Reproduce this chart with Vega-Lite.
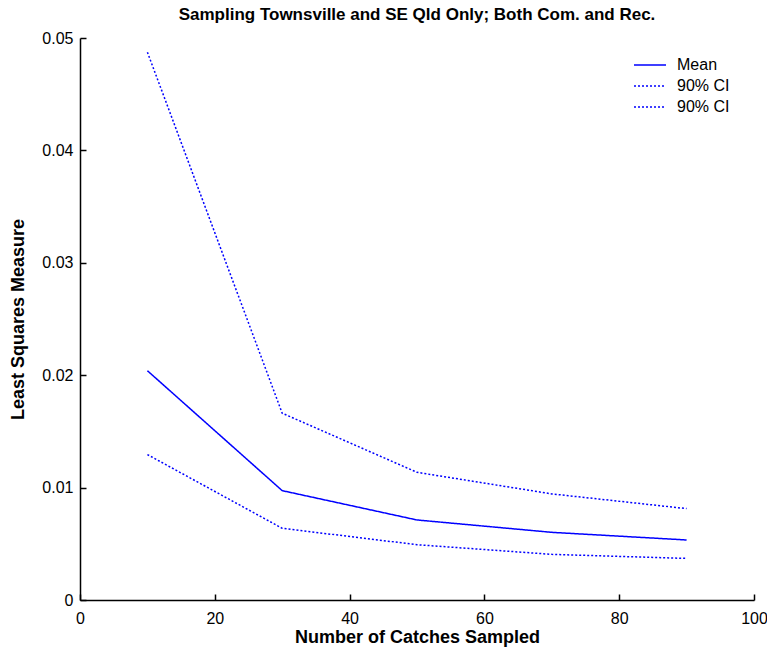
{
  "$schema": "https://vega.github.io/schema/vega-lite/v6.json",
  "autosize": {"type": "none"},
  "padding": {"left": 80, "top": 38, "right": 13, "bottom": 52},
  "width": 674,
  "height": 562,
  "background": "white",
  "title": {
    "text": "Sampling Townsville and SE Qld Only; Both Com. and Rec.",
    "font": "Liberation Sans",
    "fontSize": 17,
    "fontWeight": "bold",
    "color": "black",
    "anchor": "middle",
    "frame": "group",
    "offset": 6
  },
  "config": {
    "view": {"stroke": null},
    "font": "Liberation Sans"
  },
  "data": {
    "values": [
      {"n": 10, "series": "Mean", "value": 0.0204},
      {"n": 30, "series": "Mean", "value": 0.00973},
      {"n": 50, "series": "Mean", "value": 0.00712},
      {"n": 70, "series": "Mean", "value": 0.00602},
      {"n": 90, "series": "Mean", "value": 0.00534},
      {"n": 10, "series": "Upper", "value": 0.04874},
      {"n": 30, "series": "Upper", "value": 0.01662},
      {"n": 50, "series": "Upper", "value": 0.01136},
      {"n": 70, "series": "Upper", "value": 0.00944},
      {"n": 90, "series": "Upper", "value": 0.00813},
      {"n": 10, "series": "Lower", "value": 0.01294},
      {"n": 30, "series": "Lower", "value": 0.00638},
      {"n": 50, "series": "Lower", "value": 0.00492},
      {"n": 70, "series": "Lower", "value": 0.00406},
      {"n": 90, "series": "Lower", "value": 0.0037}
    ]
  },
  "resolve": {"axis": {"x": "independent", "y": "independent"}},
  "layer": [
    {
      "mark": {"type": "line", "color": "#0000ff", "strokeWidth": 1.5},
      "encoding": {
        "x": {
          "field": "n",
          "type": "quantitative",
          "scale": {"domain": [0, 100], "nice": false, "zero": false},
          "axis": {
            "orient": "bottom",
            "title": "Number of Catches Sampled",
            "titleFont": "Liberation Sans",
            "titleFontSize": 18,
            "titleFontWeight": "bold",
            "titleColor": "black",
            "titlePadding": 2,
            "values": [0, 20, 40, 60, 80, 100],
            "labelFont": "Liberation Sans",
            "labelFontSize": 16,
            "labelColor": "black",
            "labelPadding": 10,
            "labelFlush": false,
            "ticks": false,
            "domainColor": "black",
            "domainWidth": 1.5,
            "grid": false
          }
        },
        "y": {
          "field": "value",
          "type": "quantitative",
          "scale": {"domain": [0, 0.05], "nice": false},
          "axis": {
            "orient": "left",
            "title": "Least Squares Measure",
            "titleFont": "Liberation Sans",
            "titleFontSize": 18,
            "titleFontWeight": "bold",
            "titleColor": "black",
            "titlePadding": 14,
            "values": [0, 0.01, 0.02, 0.03, 0.04, 0.05],
            "labelExpr": "datum.value == 0 ? '0' : format(datum.value, '.2f')",
            "labelFont": "Liberation Sans",
            "labelFontSize": 16,
            "labelColor": "black",
            "labelPadding": 7,
            "labelFlush": false,
            "ticks": false,
            "domainColor": "black",
            "domainWidth": 1.5,
            "grid": false
          }
        },
        "strokeDash": {
          "field": "series",
          "type": "nominal",
          "scale": {"domain": ["Mean", "Upper", "Lower"], "range": [[1, 0], [2, 2], [2, 2]]},
          "legend": {
            "title": null,
            "orient": "none",
            "legendX": 561,
            "legendY": 18,
            "symbolType": "M-2,0H2",
            "symbolSize": 256,
            "symbolStrokeWidth": 1.5,
            "symbolStrokeColor": "#0000ff",
            "symbolFillColor": "transparent",
            "labelOffset": 18,
            "labelFont": "Liberation Sans",
            "labelFontSize": 16,
            "labelColor": "black",
            "rowPadding": 4,
            "labelExpr": "datum.label == 'Mean' ? 'Mean' : '90% CI'"
          }
        }
      }
    },
    {
      "mark": {"type": "line", "strokeOpacity": 0},
      "encoding": {
        "detail": {"field": "series", "type": "nominal"},
        "x": {
          "field": "n",
          "type": "quantitative",
          "axis": {
            "orient": "bottom",
            "offset": -6,
            "title": null,
            "values": [0, 20, 40, 60, 80, 100],
            "labels": false,
            "domain": false,
            "grid": false,
            "ticks": true,
            "tickSize": 6,
            "tickWidth": 1.5,
            "tickColor": "black"
          }
        },
        "y": {
          "field": "value",
          "type": "quantitative",
          "axis": {
            "orient": "left",
            "offset": -6,
            "title": null,
            "values": [0, 0.01, 0.02, 0.03, 0.04, 0.05],
            "labels": false,
            "domain": false,
            "grid": false,
            "ticks": true,
            "tickSize": 6,
            "tickWidth": 1.5,
            "tickColor": "black"
          }
        }
      }
    }
  ]
}
